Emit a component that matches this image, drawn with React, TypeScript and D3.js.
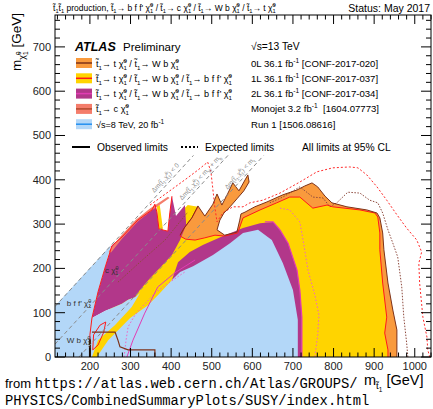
import React from 'react';
import * as d3 from 'd3';

type P = [number, number];

const W = 433;
const H = 409;
const frame = { left: 55, right: 431, top: 15, bottom: 357 };

const xMajor = [200, 300, 400, 500, 600, 700, 800, 900, 1000];
const yMajor = [0, 100, 200, 300, 400, 500, 600, 700];
const xMinor = d3.range(120, 1041, 20);
const yMinor = d3.range(0, 771, 20);

// kinematic limits m_stop - m_lsp = dm (0, mW+mb, mt)
const kinDm = [0, 85, 173];
const kinTop = 455;
const kinLabelAt = [365, 348, 372];

// all contours are [m_stop, m_lsp] in GeV
const zeroLepFill: P[] = [[717,0],[956,0],[956,61],[946,106],[934,167],[924,242],[921,280],[914,314],[907,325],[882,332],[833,339],[796,348],[779,363],[761,384],[747,393],[729,386],[710,377],[675,366],[636,350],[606,339],[582,327],[572,323],[569,309],[562,282],[532,275],[513,287],[520,309],[530,325],[545,339],[562,357],[579,375],[592,395],[589,411],[567,375],[552,393],[540,370],[525,343],[513,368],[503,345],[483,318],[466,341],[451,314],[432,291],[422,275],[434,253],[471,237],[594,214],[692,129]];
const oneLepFill: P[] = [[195,0],[934,0],[934,16],[926,54],[931,90],[921,167],[914,242],[914,280],[909,316],[902,325],[865,332],[798,339],[784,343],[749,336],[717,361],[692,361],[660,348],[619,332],[577,314],[564,280],[532,273],[508,275],[483,269],[459,264],[436,266],[422,273],[432,291],[451,314],[466,339],[441,343],[417,321],[385,275],[348,230],[311,185],[274,140],[237,95],[212,65],[200,38]];
const oneLepSliver: P[] = [[365,341],[372,343],[380,287],[370,287]];
const twoLepWedge: P[] = [[205,88],[220,147],[237,201],[254,251],[279,271],[318,309],[353,332],[360,345],[365,327],[370,289],[392,284],[397,327],[402,363],[412,318],[434,343],[437,298],[422,264],[402,230],[372,201],[348,178],[323,151],[311,135],[294,129],[279,120],[237,104]];
const twoLepBand: P[] = [[402,174],[417,214],[446,237],[478,253],[528,273],[577,291],[619,302],[651,305],[668,287],[688,257],[710,196],[717,151],[722,90],[722,0],[471,0],[409,167]];
const monojetFill: P[] = [[246,238],[274,271],[313,310],[348,335],[392,362],[396,359],[353,331],[318,306],[279,267],[252,236]];
const run1Bulk: P[] = [[217,0],[245,38],[299,88],[343,117],[372,144],[402,174],[422,192],[454,205],[503,230],[545,257],[577,280],[614,287],[648,264],[675,212],[700,151],[712,84],[712,0]];
const run1Strip: P[] = [[114,0],[114,115],[252,253],[237,201],[220,147],[205,88],[237,104],[279,120],[294,129],[311,135],[323,144],[303,113],[262,72],[220,38],[205,0]];

// observed / expected lines
const zeroLepObs: P[] = [[956,0],[956,61],[946,106],[934,167],[924,242],[921,280],[914,314],[907,325],[882,332],[833,339],[796,348],[779,363],[761,384],[747,393],[729,386],[710,377],[675,366],[636,350],[606,339],[582,327],[572,323],[569,309],[562,282],[532,275],[513,287],[520,309],[530,325],[545,339],[562,357],[579,375],[592,395],[589,411],[567,375],[552,393],[540,370],[525,343],[513,368],[503,345],[483,318],[466,341],[451,314],[432,291],[422,275]];
const zeroLepObsLow: P[] = [[205,56],[262,56],[269,38],[274,23],[294,16],[360,16],[360,0]];
const zeroLepExp: P[] = [[983,0],[980,32],[973,90],[968,158],[958,226],[946,257],[934,287],[921,325],[909,348],[889,354],[865,370],[835,372],[808,348],[791,339],[774,359],[749,361],[734,372],[717,384],[675,361],[643,348]];
const zeroLepExpDiag: P[] = [[269,169],[323,214],[385,264],[441,327]];
const oneLepObs: P[] = [[466,339],[451,314],[432,291],[422,273],[436,266],[459,264],[483,269],[508,275],[532,273],[564,280],[577,314],[619,332],[660,348],[692,361],[717,361],[749,336],[784,343],[798,339],[865,332],[902,325],[909,316],[914,280],[914,242],[921,167],[931,90],[926,54],[934,16],[934,0]];
const oneLepObsDiag: P[] = [[200,0],[200,50],[205,88],[220,147],[237,201],[254,251],[279,271],[318,309],[353,332],[360,345],[365,327],[370,289],[392,284],[397,327],[402,363]];
const oneLepObsLoop: P[] = [[207,16],[209,50],[225,72],[239,79],[234,56],[220,27],[207,16]];
const oneLepExp: P[] = [[348,343],[392,372],[434,400],[466,422],[490,440],[498,418],[503,377],[508,336],[513,305],[527,325],[552,339],[577,339],[594,348],[626,354],[668,370],[717,395],[759,418],[798,427],[840,429],[860,427],[882,411],[907,384],[931,354],[956,321],[980,291],[1005,264],[1017,237],[1010,212],[1012,167],[1020,90],[1030,45],[1032,16],[1037,0]];
const twoLepObs: P[] = [[631,305],[651,305],[668,287],[688,257],[710,196],[717,151],[722,90],[722,0]];
const twoLepObsLow: P[] = [[291,0],[306,38],[335,99],[367,158],[409,190],[459,219]];
const twoLepExp: P[] = [[668,336],[692,332],[717,305],[727,253],[737,196],[754,140],[764,95],[761,50],[754,0]];
const twoLepExpLow: P[] = [[284,0],[289,38],[294,68],[311,95],[328,113],[360,144],[397,169],[434,192]];

const regionLabels: { at: P; text: string }[] = [
  { at: [237, 190], text: 'c' },
  { at: [143, 115], text: 'b f f\u2019' },
  { at: [143, 32], text: 'W b' },
];

const legendFill = ['#F99A3D', '#FFD400', '#B2378A', '#F47D6B', '#B3D7F8'];
const legendLine = ['#7E3218', '#FF1A1A', '#E23CB4', '#B0482C', '#2490F0'];
const legendDecays = [['t', 'W b'], ['t', 'W b', 'b f f\u2019'], ['t', 'W b', 'b f f\u2019'], ['c'], []];
const legendAnalysis = ['0L 36.1 fb', '1L 36.1 fb', '2L 36.1 fb', 'Monojet 3.2 fb', 'Run 1'];
const legendRef = ['[CONF-2017-020]', '[CONF-2017-037]', '[CONF-2017-034]', '\u00a0[1604.07773]', '[1506.08616]'];

const FONT = "'Liberation Sans', Arial, Helvetica, sans-serif";
const MONO = "'Liberation Mono', 'DejaVu Sans Mono', monospace";

const x = d3.scaleLinear().domain([114, 1040]).range([frame.left, frame.right]);
const y = d3.scaleLinear().domain([0, 772]).range([frame.bottom, frame.top]);
const line = d3.line<P>().x(d => x(d[0])).y(d => y(d[1]));
const poly = (pts: P[]) => (line(pts) || '') + 'Z';

function Chi({ fs }: { fs: number }) {
  return (
    <>
      <tspan>{'\u03c7\u0303'}</tspan>
      <tspan fontSize={fs * 0.68} baselineShift={fs * 0.42}>0</tspan>
      <tspan fontSize={fs * 0.68} baselineShift={-fs * 0.28} dx={-fs * 0.38}>1</tspan>
    </>
  );
}

function Stop({ fs }: { fs: number }) {
  return (
    <>
      <tspan>{'t\u0303'}</tspan>
      <tspan fontSize={fs * 0.68} baselineShift={-fs * 0.28}>1</tspan>
    </>
  );
}

function Decay({ fs, d }: { fs: number; d: string }) {
  return (
    <>
      <Stop fs={fs} />
      {'\u2192 ' + d + ' '}
      <Chi fs={fs} />
    </>
  );
}

export default function App() {
  const angle = (Math.atan2(y(1) - y(0), x(1) - x(0)) * 180) / Math.PI;
  const nx = Math.sin((angle * Math.PI) / 180);
  const ny = -Math.cos((angle * Math.PI) / 180);

  return (
    <svg width={W} height={H} style={{ position: 'absolute', left: 0, top: 0 }} fontFamily={FONT}>
      <rect width={W} height={H} fill="#fff" />
      <defs>
        <clipPath id="plot">
          <rect x={frame.left} y={frame.top} width={frame.right - frame.left} height={frame.bottom - frame.top} />
        </clipPath>
      </defs>

      <g clipPath="url(#plot)">
        <path d={poly(zeroLepFill)} fill={legendFill[0]} />
        <path d={poly(oneLepFill)} fill={legendFill[1]} />
        <path d={poly(oneLepSliver)} fill={legendFill[1]} />
        <path d={poly(twoLepWedge)} fill={legendFill[2]} />
        <path d={poly(twoLepBand)} fill={legendFill[2]} />
        <path d={poly(run1Bulk)} fill={legendFill[4]} />
        <path d={poly(run1Strip)} fill={legendFill[4]} />
        <path d={poly(monojetFill)} fill={legendFill[3]} />

        {/* expected */}
        <path d={line(zeroLepExp) || ''} fill="none" stroke="#8E4A3E" strokeWidth={1} strokeDasharray="1.5,1.5" />
        <path d={line(zeroLepExpDiag) || ''} fill="none" stroke="#8E4A3E" strokeWidth={1} strokeDasharray="1.5,1.5" />
        <path d={line(oneLepExp) || ''} fill="none" stroke="#FF2A2A" strokeWidth={1} strokeDasharray="2,2" />
        <path d={line(twoLepExp) || ''} fill="none" stroke="#F064C4" strokeWidth={1} strokeDasharray="1.5,2" />
        <path d={line(twoLepExpLow) || ''} fill="none" stroke="#F064C4" strokeWidth={1} strokeDasharray="1.5,2" />

        {/* observed */}
        <path d={line(twoLepObs) || ''} fill="none" stroke={legendLine[2]} strokeWidth={1.2} />
        <path d={line(twoLepObsLow) || ''} fill="none" stroke={legendLine[2]} strokeWidth={1} />
        <path d={line(oneLepObs) || ''} fill="none" stroke={legendLine[1]} strokeWidth={1} />
        <path d={line(oneLepObsDiag) || ''} fill="none" stroke={legendLine[1]} strokeWidth={1} />
        <path d={line(oneLepObsLoop) || ''} fill="none" stroke={legendLine[1]} strokeWidth={1} />
        <path d={line(zeroLepObs) || ''} fill="none" stroke={legendLine[0]} strokeWidth={1} />
        <path d={line(zeroLepObsLow) || ''} fill="none" stroke={legendLine[0]} strokeWidth={1.2} />
        <path d={line([[200, 0], [200, 40]]) || ''} fill="none" stroke="#3a1a0a" strokeWidth={2} />

        {/* kinematic lines */}
        {kinDm.map((dm, i) => {
          const lo = Math.max(0, 114 - dm);
          return (
            <path key={i} d={line([[lo + dm, lo], [kinTop + dm, kinTop]]) || ''} stroke="#8a8a8a" strokeWidth={1} strokeDasharray="4,3" fill="none" />
          );
        })}
      </g>

      {/* kinematic labels */}
      {kinDm.map((dm, i) => {
        const m = kinLabelAt[i];
        const px = x(m + dm) + nx * 3.5;
        const py = y(m) + ny * 3.5;
        const fs = 6.5;
        return (
          <text key={i} transform={`translate(${px},${py}) rotate(${angle})`} fontSize={fs} fill="#8a8a8a">
            {'\u0394m('}
            <Stop fs={fs} />
            {','}
            <Chi fs={fs} />
            {') < '}
            {i === 0 && '0'}
            {i === 1 && (
              <>
                m<tspan fontSize={fs * 0.68} baselineShift={-fs * 0.28}>W</tspan> + m<tspan fontSize={fs * 0.68} baselineShift={-fs * 0.28}>b</tspan>
              </>
            )}
            {i === 2 && (
              <>
                m<tspan fontSize={fs * 0.68} baselineShift={-fs * 0.28}>t</tspan>
              </>
            )}
          </text>
        );
      })}

      {regionLabels.map((r, i) => (
        <text key={i} x={x(r.at[0])} y={y(r.at[1])} fontSize={8} fill="#333">
          {r.text + ' '}
          <Chi fs={8} />
        </text>
      ))}

      {/* frame and ticks */}
      <rect x={frame.left} y={frame.top} width={frame.right - frame.left} height={frame.bottom - frame.top} fill="none" stroke="#000" strokeWidth={1} />
      {xMinor.map(v => {
        const len = xMajor.includes(v) ? 9 : 4.5;
        return (
          <g key={'x' + v} stroke="#000" strokeWidth={1}>
            <line x1={x(v)} x2={x(v)} y1={frame.bottom} y2={frame.bottom - len} />
            <line x1={x(v)} x2={x(v)} y1={frame.top} y2={frame.top + len} />
          </g>
        );
      })}
      {yMinor.map(v => {
        const len = yMajor.includes(v) ? 10 : 5;
        return (
          <g key={'y' + v} stroke="#000" strokeWidth={1}>
            <line x1={frame.left} x2={frame.left + len} y1={y(v)} y2={y(v)} />
            <line x1={frame.right} x2={frame.right - len} y1={y(v)} y2={y(v)} />
          </g>
        );
      })}
      {xMajor.map(v => (
        <text key={'xl' + v} x={x(v)} y={370} fontSize={11} textAnchor="middle" fill="#222">{v}</text>
      ))}
      {yMajor.map(v => (
        <text key={'yl' + v} x={51} y={y(v) + 4} fontSize={11} textAnchor="end" fill="#222">{v}</text>
      ))}

      {/* axis titles */}
      <text transform="translate(21,71) rotate(-90)" fontSize={13.5}>
        m
        <tspan fontSize={9} baselineShift={-3.5}>{'\u03c7\u0303'}</tspan>
        <tspan fontSize={6.5} baselineShift={0}>0</tspan>
        <tspan fontSize={6.5} baselineShift={-6.5} dx={-3.6}>1</tspan>
        {' [GeV]'}
      </text>
      <text x={364} y={385} fontSize={14.5}>
        m
        <tspan fontSize={9.5} baselineShift={-4}>{'t\u0303'}</tspan>
        <tspan fontSize={6.5} baselineShift={-6.5}>1</tspan>
        {' [GeV]'}
      </text>

      {/* title */}
      <text x={53} y={11} fontSize={8.5}>
        <Stop fs={8.5} />
        <Stop fs={8.5} />
        {' production, '}
        <Decay fs={8.5} d="b f f'" />
        {' / '}
        <Decay fs={8.5} d="c" />
        {' / '}
        <Decay fs={8.5} d="W b" />
        {' / '}
        <Decay fs={8.5} d="t" />
      </text>
      <text x={430} y={12} fontSize={10.5} textAnchor="end">Status: May 2017</text>

      {/* legend */}
      <text x={75} y={51} fontSize={12.5} fontWeight="bold" fontStyle="italic">ATLAS</text>
      <text x={123} y={51} fontSize={11.5}>Preliminary</text>
      <text x={251} y={50} fontSize={10.3}>{'\u221as=13 TeV'}</text>
      {legendFill.map((c, i) => {
        const cy = 63 + i * 15.3;
        return (
          <g key={'lg' + i}>
            <rect x={76} y={cy - 5} width={16} height={10} fill={c} />
            <line x1={76} x2={92} y1={cy} y2={cy} stroke={legendLine[i]} strokeWidth={1.5} />
            <text x={96} y={cy + 3.5} fontSize={9.1}>
              {legendDecays[i].length > 0 &&
                legendDecays[i].map((d, j) => (
                  <React.Fragment key={j}>
                    {j > 0 && ' / '}
                    <Decay fs={9.1} d={d} />
                  </React.Fragment>
                ))}
              {legendDecays[i].length === 0 && (
                <>
                  {'\u221as=8 TeV, 20 fb'}
                  <tspan fontSize={6.5} baselineShift={4}>-1</tspan>
                </>
              )}
            </text>
            <text x={251} y={cy + 3.5} fontSize={9.6}>
              {legendAnalysis[i]}
              {i < 4 && <tspan fontSize={6.6} baselineShift={4}>-1</tspan>}
              {' ' + legendRef[i]}
            </text>
          </g>
        );
      })}
      <line x1={72} x2={90} y1={147} y2={147} stroke="#000" strokeWidth={2} />
      <text x={97} y={151} fontSize={10.3}>Observed limits</text>
      <line x1={181} x2={198} y1={147} y2={147} stroke="#000" strokeWidth={2} strokeDasharray="2,2" />
      <text x={205} y={151} fontSize={10.3}>Expected limits</text>
      <text x={302} y={151} fontSize={10.3}>All limits at 95% CL</text>

      {/* source */}
      <text x={5} y={388} fontSize={13}>
        from{' '}
        <tspan fontFamily={MONO} fontSize={13.8}>https://atlas.web.cern.ch/Atlas/GROUPS/</tspan>
      </text>
      <text x={5} y={405} fontSize={13.8} fontFamily={MONO}>
        PHYSICS/CombinedSummaryPlots/SUSY/index.html
      </text>
    </svg>
  );
}
